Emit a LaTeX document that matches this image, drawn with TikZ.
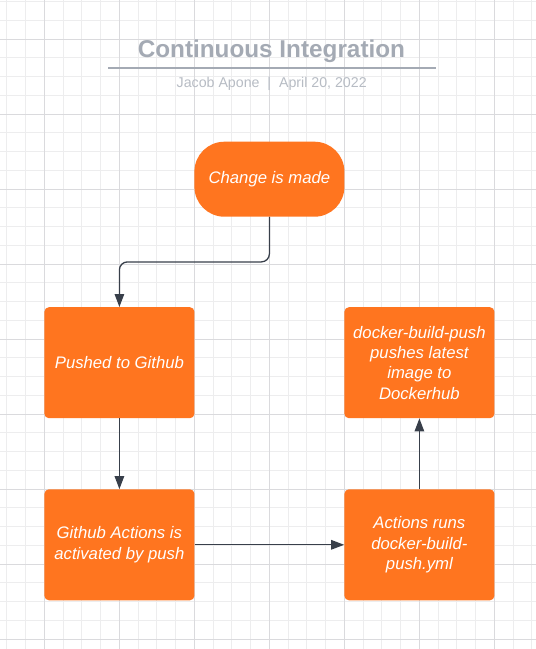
\documentclass[tikz,border=0pt]{standalone}
\usepackage{fontspec}
\setmainfont{Liberation Sans}
\usetikzlibrary{arrows.meta}
\definecolor{orng}{RGB}{255,117,31}
\definecolor{linec}{RGB}{56,63,74}
\definecolor{gridminor}{RGB}{237,237,238}
\definecolor{gridmajor}{RGB}{218,218,221}
\definecolor{titlec}{RGB}{164,170,180}
\definecolor{subc}{RGB}{183,188,196}
\tikzset{
  procbox/.style={fill=orng, rounded corners=4.5pt, minimum width=150pt, minimum height=111pt,
    inner sep=0pt, text=white, align=center, font=\fontsize{16.7}{20.3}\selectfont\itshape},
  startbox/.style={procbox, minimum height=75pt, rounded corners=30pt},
  conn/.style={draw=linec, line width=1.3pt, -{Triangle[length=13pt,width=9.5pt]}},
  minorline/.style={draw=gridminor, line width=1pt},
  majorline/.style={draw=gridmajor, line width=1pt},
}
\begin{document}
\begin{tikzpicture}[x=1pt,y=-1pt]
\useasboundingbox[fill=white] (0,0) rectangle (536,649);
% grid
\foreach \k in {-2,...,26} {
  \draw[minorline] ({44.4+18.75*\k},0) -- ({44.4+18.75*\k},649);
}
\foreach \k in {-2,...,33} {
  \draw[minorline] (0,{39+18.75*\k}) -- (536,{39+18.75*\k});
}
\foreach \k in {0,...,7} {
  \draw[majorline] ({44.4+75*\k},0) -- ({44.4+75*\k},649);
}
\foreach \k in {0,...,8} {
  \draw[majorline] (0,{39+75*\k}) -- (536,{39+75*\k});
}
% title
\node[anchor=base, text=titlec, font=\fontsize{24.3}{28}\selectfont\bfseries, inner sep=0pt] (title) at (271.4,57.5) {Continuous Integration};
\draw[titlec, line width=2pt] (108.3,68.3) -- (435.7,68.3);
\node[anchor=base, text=subc, font=\fontsize{14.2}{17}\selectfont, inner sep=0pt] (sub) at (271.7,87.5) {Jacob Apone~~|~~April 20, 2022};
% nodes
\node[startbox] (change) at (269.4,179.2) {Change is made};
\node[procbox] (pushed) at (119.4,362.7) {Pushed to Github};
\node[procbox] (docker) at (419.4,362.7) {docker-build-push\\pushes latest\\image to\\Dockerhub};
\node[procbox] (ghact) at (119.4,544.8) {Github Actions is\\activated by push};
\node[procbox] (actions) at (419.4,544.8) {Actions runs\\docker-build-\\push.yml};
% connectors
\draw[conn, rounded corners=8pt] (change.south) -- ++(0,45) -| (pushed.north);
\draw[conn] (pushed) -- (ghact);
\draw[conn] (ghact) -- (actions);
\draw[conn] (actions) -- (docker);
\end{tikzpicture}
\end{document}
